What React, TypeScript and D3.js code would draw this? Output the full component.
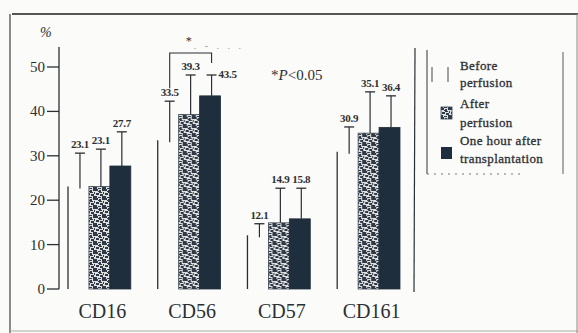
import React from "react";
import * as d3 from "d3";

const categories = ["CD16", "CD56", "CD57", "CD161"];
const seriesNames = ["Before perfusion", "After perfusion", "One hour after transplantation"];
const beforeMean = [23.1, 33.5, 12.1, 30.9];
const afterMean = [23.1, 39.3, 14.9, 35.1];
const hourMean = [27.7, 43.5, 15.8, 36.4];
const beforeSD = [7.5, 8.8, 2.6, 5.6];
const afterSD = [8.4, 8.9, 7.8, 9.3];
const hourSD = [7.7, 4.7, 6.9, 7.1];
const beforeLabels = ["23.1", "33.5", "12.1", "30.9"];
const afterLabels = ["23.1", "39.3", "14.9", "35.1"];
const hourLabels = ["27.7", "43.5", "15.8", "36.4"];
const yTicks = [0, 10, 20, 30, 40, 50];

const W = 578, H = 333;
const INK = "#2b2f33";
const DARK = "#1f2e3c";
const SERIF = "'Liberation Serif', 'Times New Roman', Times, serif";

export default function App() {
  const y = d3.scaleLinear().domain([0, 50]).range([289, 67]);
  const x0 = d3.scaleBand().domain(categories).range([68, 400]).paddingInner(0.3).paddingOuter(0);
  const x1 = d3.scaleBand().domain(["0", "1", "2"]).range([0, x0.bandwidth()]).padding(0);
  const bw = x1.bandwidth();

  const series = [
    { means: beforeMean, sds: beforeSD, labels: beforeLabels },
    { means: afterMean, sds: afterSD, labels: afterLabels },
    { means: hourMean, sds: hourSD, labels: hourLabels },
  ];

  const speckles: [number, number, number, number][] = [
    [0, 0, 3, 2], [4, 1, 2, 3], [7, 0, 2, 2], [1, 4, 3, 2], [5, 5, 3, 2],
    [8, 3, 1, 2], [0, 7, 2, 2], [3, 8, 3, 1], [7, 7, 2, 2], [3, 2, 1, 1], [6, 3, 1, 1],
  ];

  return (
    <svg width={W} height={H} style={{ position: "absolute", left: 0, top: 0, background: "#fbfbf9", fontFamily: SERIF }}>
      <defs>
        <pattern id="stip" patternUnits="userSpaceOnUse" width={9} height={9}>
          <rect width={9} height={9} fill="#dfe0e0" />
          {speckles.map((s, i) => (
            <rect key={i} x={s[0]} y={s[1]} width={s[2]} height={s[3]} fill="#2f3a46" />
          ))}
        </pattern>
      </defs>

      {/* outer frame */}
      <line x1={12} y1={14} x2={578} y2={14} stroke="#555" strokeWidth={2} />
      <line x1={10} y1={14} x2={10} y2={333} stroke="#666" strokeWidth={1.5} />
      <line x1={10} y1={331} x2={578} y2={331} stroke="#aaa" strokeWidth={1} />
      <line x1={577} y1={14} x2={577} y2={333} stroke="#888" strokeWidth={1} />

      {/* y axis */}
      <text x={40} y={37} fontSize={14} fontStyle="italic" fill={INK}>%</text>
      <line x1={59} x2={59} y1={y(0)} y2={47} stroke={INK} strokeWidth={1.3} />
      {yTicks.map(t => (
        <g key={t}>
          <line x1={47} x2={59} y1={y(t)} y2={y(t)} stroke={INK} strokeWidth={1.3} />
          <text x={45} y={y(t) + 5} textAnchor="end" fontSize={15} fill={INK}>{t}</text>
        </g>
      ))}

      {/* plot right boundary */}
      <line x1={415} x2={414} y1={48} y2={292} stroke={INK} strokeWidth={1.2} />

      {/* bars */}
      {categories.map((c, ci) => (
        <g key={c} transform={`translate(${x0(c)},0)`}>
          {series.map((s, si) => {
            const bx = x1(String(si))!;
            const top = y(s.means[ci]);
            const cx = bx + bw / 2 + 1.5;
            const eTop = y(s.means[ci] + s.sds[ci]);
            const isSpecial = ci === 1 && si === 2;
            return (
              <g key={si}>
                {si === 0 ? (
                  <line x1={bx} x2={bx} y1={top} y2={y(0)} stroke={INK} strokeWidth={1.3} />
                ) : (
                  <rect x={bx} y={top} width={bw} height={y(0) - top}
                    fill={si === 1 ? "url(#stip)" : DARK} stroke={si === 1 ? "#3a4450" : DARK} strokeWidth={0.8} />
                )}
                <line x1={cx} x2={cx} y1={si === 0 ? top + 2 : top} y2={eTop} stroke={INK} strokeWidth={1.2} />
                <line x1={cx - 5} x2={cx + 5} y1={eTop} y2={eTop} stroke={INK} strokeWidth={1.3} />
                <text x={isSpecial ? cx + 7 : cx} y={isSpecial ? eTop + 3 : eTop - 5}
                  textAnchor={isSpecial ? "start" : "middle"} fontSize={11} fontWeight="bold"
                  fill={INK} letterSpacing={-0.3}>{s.labels[ci]}</text>
              </g>
            );
          })}
          <text x={x0.bandwidth() / 2 + 3} y={318} textAnchor="middle" fontSize={20} fill={INK}>{c}</text>
        </g>
      ))}

      {/* significance bracket on CD56 */}
      {(() => {
        const g = x0("CD56")!;
        const xl = g + x1("0")! + bw / 2 + 1.5;
        const xr = g + x1("2")! + bw / 2 + 1.5;
        return (
          <g stroke={INK} strokeWidth={1.1} fill="none">
            <path d={`M${xl},${y(beforeMean[1] + beforeSD[1]) - 13} V53 H${xr} V63`} />
            <text x={(xl + xr) / 2 - 5} y={45} fontSize={12} fill={INK} stroke="none">*</text>
            <text x={(xl + xr) / 2 + 3} y={49} fontSize={10} fill="#999" stroke="none" letterSpacing={3}>. - . . .</text>
          </g>
        );
      })()}

      <text x={271} y={80} fontSize={15} fill={INK}>
        <tspan>*</tspan><tspan fontStyle="italic">P</tspan><tspan>&lt;0.05</tspan>
      </text>

      {/* legend */}
      <line x1={427} x2={427} y1={50} y2={174} stroke="#555" strokeWidth={1.2} />
      <line x1={563} x2={563} y1={52} y2={174} stroke="#777" strokeWidth={1.2} />
      <line x1={427} x2={520} y1={174} y2={174} stroke="#777" strokeWidth={1.2} strokeDasharray="2 5" />
      <line x1={432} x2={432} y1={67} y2={82} stroke="#666" strokeWidth={1.2} />
      <line x1={448} x2={448} y1={67} y2={82} stroke="#666" strokeWidth={1.2} />
      <rect x={441} y={107} width={11} height={12} fill="url(#stip)" stroke="#3a4450" strokeWidth={0.8} />
      <rect x={441} y={147} width={11} height={12} fill={DARK} />
      {[
        ["Before", 70], ["perfusion", 87], ["After", 108], ["perfusion", 127],
        ["One hour after", 145], ["transplantation", 163],
      ].map(([t, yy], i) => (
        <text key={i} x={460} y={yy as number} fontSize={13} fill={INK}
          letterSpacing={0.4} stroke={INK} strokeWidth={0.3}>{t}</text>
      ))}
      <title>{seriesNames.join(", ")}</title>
    </svg>
  );
}
